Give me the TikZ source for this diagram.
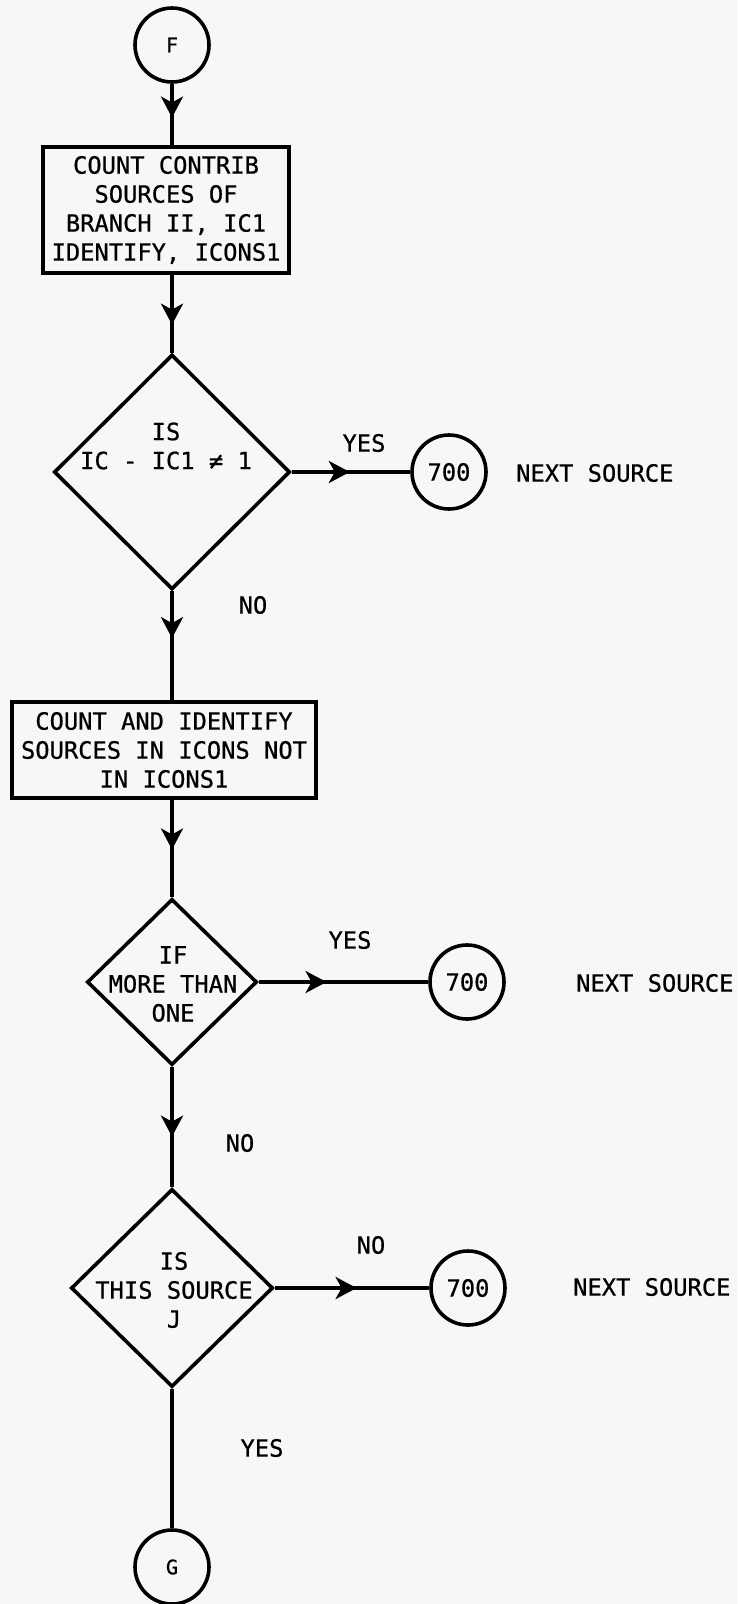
\documentclass[tikz,border=0pt]{standalone}
\usepackage{fontspec}
\setmainfont{DejaVu Sans Mono}[FakeBold=0.7]
\usetikzlibrary{arrows.meta,decorations.markings,shapes.geometric}
\begin{document}
\begin{tikzpicture}[x=1pt,y=-1pt,
  every node/.style={font=\fontsize{23.75}{29}\selectfont, text=black},
  ln/.style={line width=3.6pt, draw=black},
  boxnode/.style={draw=black, line width=3.6pt, inner sep=0pt, align=center},
  dia/.style={draw=black, diamond, line width=3.6pt, inner sep=0pt},
  circ/.style={draw=black, circle, line width=3.6pt, inner sep=0pt, minimum size=74pt},
  small/.style={font=\fontsize{20}{24}\selectfont},
  lbl/.style={inner sep=0pt, align=center},
  midarrow/.style={postaction={decorate}, decoration={markings,
     mark=at position #1 with {\arrow{Stealth[length=21pt,width=22pt,inset=6pt]}}}}
]
\fill[black!3] (0,0) rectangle (737,1604);
\useasboundingbox (0,0) rectangle (737,1604);

% start connector
\node[circ, small] (F) at (172,45) {F};

% process boxes
\node[boxnode, minimum width=246pt, minimum height=126pt] (box1) at (166,210)
  {COUNT CONTRIB\\SOURCES OF\\BRANCH II, IC1\\IDENTIFY, ICONS1};
\node[boxnode, minimum width=304pt, minimum height=96pt] (box2) at (164,750)
  {COUNT AND IDENTIFY\\SOURCES IN ICONS NOT\\IN ICONS1};

% decisions
\node[dia, minimum width=236pt, minimum height=235pt] (d1) at (172,472) {};
\node[lbl] (d1t) at (166,446) {IS\\IC - IC1 ≠ 1};
\node[dia, minimum width=170pt, minimum height=166pt] (d2) at (172,982) {};
\node[lbl] (d2t) at (173,984) {IF\\MORE THAN\\ONE};
\node[dia, minimum width=202pt, minimum height=198pt] (d3) at (172,1288) {};
\node[lbl] (d3t) at (174,1290) {IS\\THIS SOURCE\\J};

% off-page connectors
\node[circ] (c1) at (449,472) {700};
\node[circ] (c2) at (467,982) {700};
\node[circ] (c3) at (468,1288) {700};
\node[circ, small] (G) at (172,1567) {G};

% side texts
\node[lbl, anchor=west] (n1) at (516,473) {NEXT SOURCE};
\node[lbl, anchor=west] (n2) at (576,983) {NEXT SOURCE};
\node[lbl, anchor=west] (n3) at (573,1287) {NEXT SOURCE};

% branch labels
\node[lbl] (l1) at (364,443) {YES};
\node[lbl] (l2) at (253,605) {NO};
\node[lbl] (l3) at (350,940) {YES};
\node[lbl] (l4) at (240,1143) {NO};
\node[lbl] (l5) at (371,1245) {NO};
\node[lbl] (l6) at (262,1448) {YES};

% connectors
\draw[ln, midarrow=0.55] (F) -- (F |- box1.north);
\draw[ln, midarrow=0.64] (d1.north |- box1.south) -- (d1.north);
\draw[ln, midarrow=0.43] (d1.south) -- (d1.south |- box2.north);
\draw[ln, midarrow=0.51] (d2.north |- box2.south) -- (d2.north);
\draw[ln, midarrow=0.58] (d2.south) -- (d3.north);
\draw[ln] (d3.south) -- (G.north);
\draw[ln, midarrow=0.49] (d1.east) -- (c1.west);
\draw[ln, midarrow=0.40] (d2.east) -- (c2.west);
\draw[ln, midarrow=0.53] (d3.east) -- (c3.west);
\end{tikzpicture}
\end{document}
